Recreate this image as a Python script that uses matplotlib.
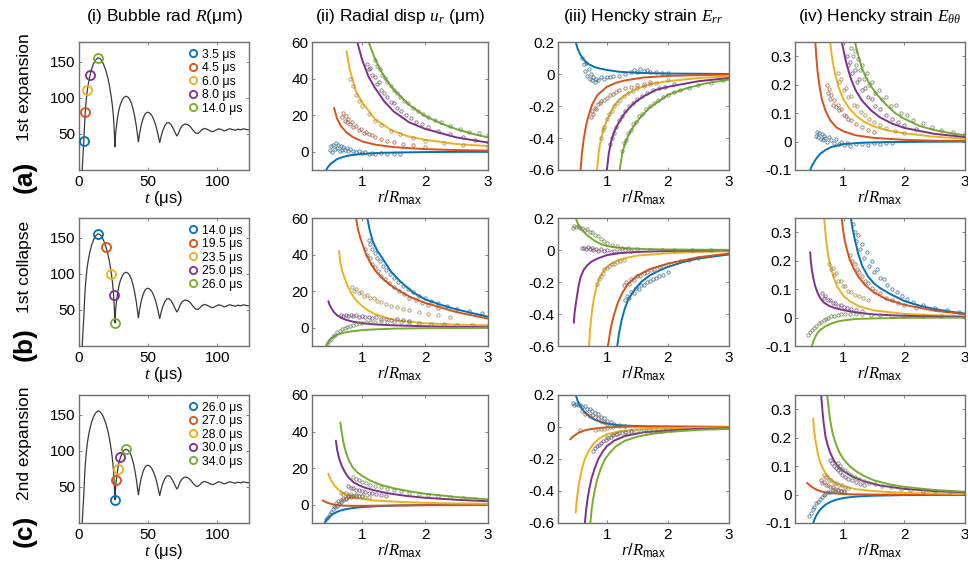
import matplotlib
matplotlib.use('Agg')
import matplotlib.pyplot as plt
from matplotlib.colors import to_rgb

plt.rcParams['font.family'] = 'Liberation Sans'
plt.rcParams['mathtext.fontset'] = 'custom'
plt.rcParams['mathtext.rm'] = 'Liberation Sans'
plt.rcParams['mathtext.it'] = 'Liberation Serif:italic'
plt.rcParams['mathtext.bf'] = 'Liberation Sans:bold'
plt.rcParams['axes.unicode_minus'] = False

colors = ['#0072BD', '#D95319', '#EDB120', '#7E2F8E', '#77AC30']

row_names = ['1st expansion', '1st collapse', '2nd expansion']
row_tags = ['(a)', '(b)', '(c)']
col_titles = ['(i) Bubble rad $R$(μm)', '(ii) Radial disp $u_r$ (μm)',
              '(iii) Hencky strain $E_{rr}$', r'(iv) Hencky strain $E_{\theta\theta}$']

# snapshot times (us) and bubble radius (um) at those times
row_times = [[3.5, 4.5, 6.0, 8.0, 14.0],
             [14.0, 19.5, 23.5, 25.0, 26.0],
             [26.0, 27.0, 28.0, 30.0, 34.0]]
row_radii = [[40, 80, 110, 131, 155],
             [155, 137, 99, 71, 32],
             [32, 59, 74, 91, 102]]

# bubble radius history R(t)
t_us = [2.3, 2.7, 3.1, 3.5, 4.0, 4.5, 5.2, 6.0, 7.0, 8.0,
        9.2, 10.5, 12.0, 13.3, 14.0, 15.2, 16.5, 18.0, 19.5, 20.8,
        22.0, 23.5, 24.4, 25.0, 25.5, 26.0, 26.5, 27.0, 28.0, 29.0,
        30.0, 31.3, 32.6, 34.0, 35.3, 36.6, 38.0, 39.3, 40.5, 41.6,
        42.4, 43.0, 43.8, 45.0, 46.5, 48.0, 49.5, 51.0, 52.5, 54.0,
        55.5, 56.8, 57.8, 58.4, 59.2, 60.5, 62.0, 63.5, 65.0, 66.5,
        68.0, 69.5, 70.8, 71.6, 73.0, 74.5, 76.5, 78.5, 80.5, 82.5,
        84.5, 86.0, 87.5, 89.0, 91.0, 93.0, 95.0, 97.0, 99.0, 101.0,
        103.0, 105.0, 107.0, 109.0, 111.0, 113.0, 115.0, 117.0, 119.0, 121.0,
        123.0]
R_um = [0, 14, 28, 40, 62, 80, 96, 110, 122, 131,
        140, 147, 152, 154.5, 155, 154, 151, 145, 137, 128,
        117, 99, 85, 71, 55, 32, 50, 59, 74, 84,
        91, 97, 100.5, 102, 101, 98, 92, 83, 72, 59,
        47, 39, 50, 62, 72, 78, 80, 79, 76, 70,
        62, 52, 43, 38, 45, 54, 61, 65, 65.5, 63,
        58, 52, 47, 49, 56, 61, 63.5, 63, 60, 55,
        51, 50.5, 53, 56, 57.5, 56, 54, 53, 55, 57,
        56, 54, 55.5, 57, 56, 55, 56.5, 55.5, 57, 56,
        55.5]

# ---- model fits: (r/Rmax, value) per snapshot ----
a_ur_fit = [
    ([0.40, 0.45, 0.50, 0.60, 0.70, 0.80, 1.00, 1.30, 1.60, 2.00, 2.50, 3.00],
     [-12, -8.5, -6.5, -4.0, -2.8, -2.0, -1.2, -0.6, -0.4, -0.2, -0.1, -0.05]),
    ([0.55, 0.60, 0.66, 0.75, 0.85, 1.00, 1.20, 1.50, 2.00, 2.50, 3.00],
     [24, 18, 14, 10.5, 8, 5.6, 3.9, 2.5, 1.4, 0.9, 0.6]),
    ([0.75, 0.80, 0.90, 1.00, 1.20, 1.45, 1.70, 2.00, 2.50, 3.00],
     [55, 45, 33, 27, 18, 12, 8.7, 6.5, 4.2, 3.1]),
    ([0.92, 1.00, 1.10, 1.20, 1.35, 1.50, 1.75, 2.00, 2.50, 3.00],
     [60, 50, 41, 35, 27.5, 22, 16, 12.5, 7.8, 5.0]),
    ([1.10, 1.20, 1.30, 1.40, 1.50, 1.75, 2.00, 2.25, 2.50, 2.75, 3.00],
     [60, 51, 44, 38.5, 34, 25.5, 19.5, 15.5, 12.3, 9.8, 7.8]),
]
a_err_fit = [
    ([0.49, 0.52, 0.56, 0.60, 0.65, 0.70, 0.80, 0.90, 1.00, 1.20, 1.50, 2.00, 3.00],
     [0.20, 0.16, 0.125, 0.10, 0.078, 0.062, 0.043, 0.033, 0.025, 0.014, 0.007, 0.003, 0.0]),
    ([0.57, 0.59, 0.62, 0.66, 0.70, 0.76, 0.85, 1.00, 1.15, 1.30, 1.60, 2.00, 2.50, 3.00],
     [-0.60, -0.50, -0.41, -0.32, -0.26, -0.19, -0.13, -0.08, -0.055, -0.04, -0.022, -0.012, -0.007, -0.004]),
    ([0.84, 0.87, 0.90, 0.95, 1.00, 1.10, 1.20, 1.35, 1.50, 1.75, 2.00, 2.50, 3.00],
     [-0.60, -0.48, -0.41, -0.34, -0.29, -0.21, -0.16, -0.12, -0.09, -0.06, -0.045, -0.025, -0.015]),
    ([1.00, 1.03, 1.07, 1.12, 1.20, 1.30, 1.45, 1.60, 1.80, 2.00, 2.50, 3.00],
     [-0.60, -0.50, -0.42, -0.36, -0.30, -0.24, -0.18, -0.14, -0.10, -0.08, -0.045, -0.025]),
    ([1.21, 1.25, 1.30, 1.37, 1.45, 1.55, 1.70, 1.85, 2.00, 2.30, 2.60, 3.00],
     [-0.60, -0.50, -0.43, -0.37, -0.32, -0.27, -0.21, -0.17, -0.13, -0.09, -0.06, -0.035]),
]
a_ett_fit = [
    ([0.45, 0.48, 0.52, 0.56, 0.62, 0.70, 0.80, 1.00, 1.30, 1.70, 2.20, 3.00],
     [-0.10, -0.085, -0.07, -0.057, -0.042, -0.03, -0.019, -0.009, -0.004, -0.002, -0.001, 0.0]),
    ([0.535, 0.55, 0.57, 0.60, 0.64, 0.70, 0.78, 0.88, 1.00, 1.20, 1.50, 2.00, 2.50, 3.00],
     [0.35, 0.30, 0.25, 0.20, 0.15, 0.11, 0.075, 0.05, 0.036, 0.022, 0.013, 0.006, 0.003, 0.002]),
    ([0.78, 0.80, 0.83, 0.87, 0.92, 1.00, 1.10, 1.22, 1.35, 1.50, 1.75, 2.00, 2.50, 3.00],
     [0.35, 0.31, 0.27, 0.23, 0.19, 0.147, 0.115, 0.088, 0.068, 0.053, 0.038, 0.029, 0.017, 0.01]),
    ([0.97, 1.00, 1.04, 1.08, 1.13, 1.20, 1.30, 1.45, 1.60, 1.80, 2.00, 2.50, 3.00],
     [0.35, 0.32, 0.28, 0.25, 0.215, 0.18, 0.145, 0.11, 0.085, 0.063, 0.048, 0.027, 0.016]),
    ([1.19, 1.22, 1.26, 1.30, 1.36, 1.45, 1.55, 1.70, 1.85, 2.00, 2.25, 2.50, 2.75, 3.00],
     [0.35, 0.32, 0.29, 0.26, 0.23, 0.195, 0.165, 0.13, 0.10, 0.08, 0.055, 0.04, 0.03, 0.022]),
]
b_ur_fit = [
    ([1.08, 1.12, 1.17, 1.24, 1.32, 1.45, 1.60, 1.80, 2.00, 2.25, 2.50, 2.75, 3.00],
     [60, 53, 47, 42, 38, 31, 25.5, 19.5, 15.5, 12.5, 10, 8, 6]),
    ([0.90, 0.93, 0.97, 1.00, 1.05, 1.12, 1.21, 1.35, 1.50, 1.75, 2.00, 2.50, 3.00],
     [60, 54, 49, 46, 41, 36, 31, 26, 22, 17, 13.6, 8.5, 5]),
    ([0.63, 0.65, 0.68, 0.72, 0.77, 0.83, 0.90, 1.00, 1.10, 1.20, 1.40, 1.60, 2.00, 2.50, 3.00],
     [42, 36, 31, 27, 22.5, 18.5, 15, 11.8, 9.3, 7.5, 5.2, 3.8, 2.4, 1.7, 1.3]),
    ([0.46, 0.48, 0.51, 0.55, 0.60, 0.67, 0.75, 0.85, 1.00, 1.20, 1.50, 2.00, 2.50, 3.00],
     [14.5, 12.5, 10.5, 8.5, 6.8, 5.3, 4.2, 3.3, 2.5, 1.8, 1.3, 0.8, 0.5, 0.3]),
    ([0.43, 0.46, 0.50, 0.55, 0.62, 0.70, 0.80, 0.90, 1.00, 1.20, 1.50, 2.00, 3.00],
     [-10, -7.8, -6, -4.7, -3.6, -2.8, -2.1, -1.7, -1.3, -0.9, -0.5, -0.25, -0.1]),
]
b_err_fit = [
    ([1.17, 1.20, 1.24, 1.29, 1.35, 1.45, 1.56, 1.70, 1.85, 2.00, 2.25, 2.50, 3.00],
     [-0.60, -0.52, -0.44, -0.37, -0.31, -0.25, -0.20, -0.16, -0.13, -0.106, -0.075, -0.053, -0.028]),
    ([1.02, 1.05, 1.08, 1.12, 1.18, 1.25, 1.35, 1.50, 1.70, 2.00, 2.50, 3.00],
     [-0.60, -0.52, -0.46, -0.40, -0.33, -0.27, -0.21, -0.16, -0.12, -0.085, -0.045, -0.022]),
    ([0.71, 0.72, 0.74, 0.76, 0.79, 0.83, 0.88, 0.94, 1.00, 1.10, 1.25, 1.50, 2.00, 2.50, 3.00],
     [-0.60, -0.52, -0.44, -0.37, -0.30, -0.23, -0.175, -0.135, -0.106, -0.078, -0.055, -0.035, -0.02, -0.012, -0.008]),
    ([0.46, 0.47, 0.49, 0.51, 0.54, 0.57, 0.62, 0.68, 0.75, 0.85, 1.00, 1.20, 1.50, 2.00, 3.00],
     [-0.455, -0.40, -0.34, -0.29, -0.22, -0.17, -0.125, -0.095, -0.072, -0.053, -0.032, -0.02, -0.012, -0.006, -0.002]),
    ([0.49, 0.52, 0.56, 0.62, 0.70, 0.80, 0.90, 1.00, 1.15, 1.30, 1.60, 2.00, 3.00],
     [0.20, 0.17, 0.14, 0.113, 0.085, 0.058, 0.037, 0.025, 0.016, 0.011, 0.006, 0.003, 0.001]),
]
b_ett_fit = [
    ([1.12, 1.15, 1.19, 1.24, 1.31, 1.40, 1.50, 1.60, 1.75, 2.00, 2.25, 2.50, 2.75, 3.00],
     [0.35, 0.31, 0.27, 0.225, 0.18, 0.145, 0.12, 0.104, 0.085, 0.058, 0.042, 0.03, 0.021, 0.014]),
    ([0.97, 0.99, 1.02, 1.06, 1.10, 1.16, 1.24, 1.35, 1.50, 1.70, 2.00, 2.50, 3.00],
     [0.35, 0.31, 0.27, 0.235, 0.205, 0.175, 0.145, 0.115, 0.088, 0.065, 0.045, 0.024, 0.012]),
    ([0.68, 0.70, 0.72, 0.75, 0.79, 0.84, 0.90, 1.00, 1.10, 1.25, 1.50, 2.00, 2.50, 3.00],
     [0.35, 0.30, 0.26, 0.215, 0.175, 0.138, 0.107, 0.076, 0.058, 0.04, 0.025, 0.013, 0.008, 0.005]),
    ([0.45, 0.46, 0.48, 0.50, 0.53, 0.57, 0.62, 0.68, 0.76, 0.86, 1.00, 1.20, 1.50, 2.00, 3.00],
     [0.23, 0.20, 0.165, 0.14, 0.112, 0.088, 0.067, 0.052, 0.041, 0.033, 0.026, 0.018, 0.011, 0.006, 0.002]),
    ([0.48, 0.50, 0.53, 0.57, 0.62, 0.70, 0.80, 0.90, 1.00, 1.20, 1.50, 2.00, 3.00],
     [-0.10, -0.085, -0.07, -0.055, -0.043, -0.031, -0.021, -0.014, -0.01, -0.005, -0.003, -0.001, 0.0]),
]
c_ur_fit = [
    ([0.40, 0.43, 0.47, 0.52, 0.58, 0.65, 0.73, 0.85, 1.00, 1.25, 1.60, 2.00, 3.00],
     [-10, -8.3, -6.8, -5.4, -4.2, -3.2, -2.5, -1.8, -1.3, -0.8, -0.4, -0.2, -0.1]),
    ([0.37, 0.40, 0.45, 0.50, 0.55, 0.60, 0.70, 0.80, 1.00, 1.50, 2.00, 3.00],
     [2.4, 1.8, 1.0, 0.5, 0.1, -0.2, -0.5, -0.6, -0.6, -0.4, -0.3, -0.2]),
    ([0.46, 0.48, 0.50, 0.53, 0.57, 0.62, 0.68, 0.75, 0.85, 1.00, 1.20, 1.60, 2.00, 2.50, 3.00],
     [17, 15, 13.5, 11.8, 10, 8.3, 6.8, 5.5, 4.2, 3.1, 2.3, 1.5, 1.0, 0.7, 0.5]),
    ([0.58, 0.60, 0.63, 0.67, 0.72, 0.78, 0.86, 0.95, 1.05, 1.20, 1.40, 1.70, 2.00, 2.50, 3.00],
     [35, 30, 25.5, 21.5, 18, 15, 12.3, 10.6, 9.2, 7.8, 6.3, 4.8, 3.8, 2.7, 1.9]),
    ([0.65, 0.67, 0.70, 0.74, 0.79, 0.85, 0.92, 1.00, 1.12, 1.30, 1.50, 1.75, 2.00, 2.50, 3.00],
     [45, 40, 34, 28.5, 24, 20.3, 17.7, 15.7, 13.3, 10.8, 9, 7.3, 6, 4.2, 2.9]),
]
c_err_fit = [
    ([0.49, 0.52, 0.56, 0.60, 0.65, 0.72, 0.80, 0.90, 1.00, 1.15, 1.35, 1.70, 2.20, 3.00],
     [0.20, 0.165, 0.135, 0.11, 0.088, 0.064, 0.046, 0.031, 0.021, 0.013, 0.008, 0.004, 0.002, 0.0]),
    ([0.40, 0.43, 0.47, 0.52, 0.58, 0.65, 0.75, 0.88, 1.00, 1.30, 1.70, 2.20, 3.00],
     [-0.078, -0.066, -0.053, -0.04, -0.029, -0.02, -0.012, -0.006, -0.002, 0.002, 0.003, 0.002, 0.001]),
    ([0.49, 0.50, 0.52, 0.54, 0.57, 0.60, 0.64, 0.70, 0.78, 0.88, 1.00, 1.20, 1.50, 2.00, 3.00],
     [-0.535, -0.48, -0.42, -0.36, -0.30, -0.25, -0.20, -0.15, -0.105, -0.07, -0.045, -0.027, -0.015, -0.007, -0.003]),
    ([0.64, 0.66, 0.68, 0.71, 0.75, 0.80, 0.86, 0.93, 1.00, 1.12, 1.30, 1.60, 2.00, 2.50, 3.00],
     [-0.60, -0.52, -0.46, -0.39, -0.32, -0.26, -0.20, -0.155, -0.12, -0.085, -0.056, -0.033, -0.021, -0.012, -0.008]),
    ([0.73, 0.75, 0.77, 0.80, 0.84, 0.90, 0.97, 1.05, 1.15, 1.30, 1.50, 1.75, 2.00, 2.50, 3.00],
     [-0.60, -0.52, -0.46, -0.40, -0.33, -0.26, -0.20, -0.16, -0.12, -0.085, -0.06, -0.042, -0.031, -0.018, -0.012]),
]
c_ett_fit = [
    ([0.50, 0.52, 0.55, 0.59, 0.64, 0.70, 0.78, 0.88, 1.00, 1.20, 1.50, 2.00, 3.00],
     [-0.10, -0.088, -0.074, -0.06, -0.047, -0.036, -0.026, -0.018, -0.012, -0.007, -0.004, -0.002, -0.001]),
    ([0.40, 0.43, 0.47, 0.52, 0.58, 0.65, 0.75, 0.90, 1.10, 1.50, 2.00, 3.00],
     [0.041, 0.035, 0.028, 0.021, 0.015, 0.01, 0.006, 0.003, 0.001, 0.0, 0.0, 0.0]),
    ([0.50, 0.51, 0.53, 0.55, 0.58, 0.62, 0.67, 0.73, 0.80, 0.90, 1.00, 1.20, 1.50, 2.00, 3.00],
     [0.267, 0.235, 0.20, 0.175, 0.14, 0.11, 0.088, 0.066, 0.05, 0.037, 0.029, 0.019, 0.012, 0.006, 0.002]),
    ([0.63, 0.65, 0.67, 0.70, 0.74, 0.78, 0.84, 0.92, 1.00, 1.15, 1.33, 1.60, 2.00, 2.50, 3.00],
     [0.353, 0.30, 0.255, 0.206, 0.172, 0.147, 0.12, 0.097, 0.082, 0.063, 0.047, 0.032, 0.02, 0.012, 0.008]),
    ([0.73, 0.75, 0.78, 0.82, 0.87, 0.93, 1.00, 1.10, 1.20, 1.33, 1.50, 1.75, 2.00, 2.50, 3.00],
     [0.353, 0.31, 0.26, 0.215, 0.18, 0.148, 0.124, 0.10, 0.083, 0.066, 0.05, 0.036, 0.027, 0.016, 0.01]),
]

# ---- measured points: (r/Rmax, value) pairs per snapshot ----
a_ur_exp = [
    [(0.48, 1.0), (0.50, 3.0), (0.52, 0.0), (0.54, 3.5), (0.56, 1.5), (0.58, 4.5), (0.60, 2.0),
     (0.62, 3.8), (0.64, 0.5), (0.66, 3.0), (0.68, 1.2), (0.70, 2.8), (0.72, 0.8), (0.75, 2.2),
     (0.78, 0.3), (0.80, 1.5), (0.85, 0.5), (0.90, -0.2), (0.95, 0.4), (1.00, -0.6), (1.05, -0.2),
     (1.10, -1.0), (1.15, -0.5), (1.20, -1.3), (1.30, -0.8), (1.40, -1.5), (1.50, -1.0), (1.60, -1.4)],
    [(0.68, 19), (0.70, 21), (0.72, 17), (0.74, 19.5), (0.76, 16), (0.78, 18), (0.80, 15),
     (0.83, 16.5), (0.86, 13.5), (0.90, 14), (0.94, 12), (0.98, 12.5), (1.02, 10.5), (1.06, 11),
     (1.10, 9.5), (1.15, 9), (1.20, 8), (1.30, 7), (1.40, 6), (1.50, 5.2), (1.65, 4.4), (1.80, 3.6),
     (2.00, 2.8)],
    [(0.80, 40), (0.85, 36), (0.90, 31), (0.95, 28), (1.00, 25), (1.10, 20.5), (1.20, 17),
     (1.30, 14.5), (1.45, 11.5), (1.60, 9.5), (1.80, 7.5), (2.00, 6), (2.30, 4.6), (2.60, 3.6),
     (3.00, 2.8)],
    [(1.08, 48), (1.10, 45), (1.13, 46), (1.16, 42), (1.20, 41), (1.23, 37), (1.27, 38), (1.30, 34),
     (1.35, 32), (1.40, 30), (1.45, 27), (1.50, 26.5), (1.56, 24), (1.62, 22.5), (1.70, 20),
     (1.78, 18.5), (1.86, 16.5), (1.95, 15), (2.05, 13.5), (2.20, 11.5), (2.40, 9.5), (2.60, 7.8),
     (2.80, 6.5), (3.00, 5.5)],
    [(1.20, 50), (1.24, 47), (1.28, 45), (1.32, 42), (1.36, 40.5), (1.40, 38), (1.45, 36),
     (1.50, 33.5), (1.55, 32), (1.60, 30), (1.66, 28), (1.72, 26.5), (1.80, 24), (1.88, 22.5),
     (1.96, 20.5), (2.05, 19), (2.15, 17.5), (2.25, 16), (2.40, 14), (2.55, 12.5), (2.70, 11),
     (2.85, 10), (3.00, 9)],
]
a_err_exp = [
    [(0.60, 0.10), (0.62, 0.06), (0.64, 0.02), (0.66, 0.07), (0.68, -0.01), (0.70, 0.03),
     (0.72, -0.03), (0.74, 0.0), (0.76, -0.04), (0.78, -0.02), (0.80, -0.05), (0.83, -0.03),
     (0.86, -0.04), (0.90, -0.02), (0.95, -0.03), (1.00, -0.02), (1.05, -0.02), (1.10, -0.01),
     (1.20, -0.01), (1.30, 0.0), (1.40, 0.01), (1.45, 0.025), (1.50, 0.015), (1.55, 0.03),
     (1.60, 0.02), (1.65, 0.028), (1.70, 0.015), (1.80, 0.012), (1.90, 0.008), (2.00, 0.004)],
    [(0.74, -0.27), (0.76, -0.23), (0.78, -0.25), (0.80, -0.21), (0.82, -0.22), (0.85, -0.19),
     (0.88, -0.18), (0.91, -0.17), (0.95, -0.16), (1.00, -0.15), (1.05, -0.13), (1.10, -0.125),
     (1.15, -0.11), (1.20, -0.10), (1.30, -0.09), (1.40, -0.08), (1.50, -0.07), (1.60, -0.06),
     (1.70, -0.05)],
    [(0.90, -0.40), (0.93, -0.35), (0.96, -0.33), (1.00, -0.28), (1.04, -0.25), (1.08, -0.23),
     (1.12, -0.20), (1.17, -0.18), (1.22, -0.16), (1.28, -0.14), (1.35, -0.12), (1.42, -0.105),
     (1.50, -0.09), (1.60, -0.075), (1.70, -0.065), (1.80, -0.055), (2.00, -0.04)],
    [(1.05, -0.44), (1.08, -0.40), (1.11, -0.37), (1.15, -0.33), (1.20, -0.29), (1.25, -0.26),
     (1.30, -0.23), (1.36, -0.20), (1.42, -0.18), (1.50, -0.155), (1.58, -0.135), (1.66, -0.12),
     (1.75, -0.10), (1.85, -0.09), (1.95, -0.08), (2.10, -0.065)],
    [(1.25, -0.48), (1.28, -0.43), (1.31, -0.41), (1.35, -0.37), (1.39, -0.35), (1.43, -0.31),
     (1.48, -0.30), (1.53, -0.26), (1.58, -0.25), (1.64, -0.22), (1.70, -0.20), (1.77, -0.18),
     (1.84, -0.165), (1.92, -0.145), (2.00, -0.13), (2.10, -0.115), (2.20, -0.10), (2.35, -0.085),
     (2.50, -0.07), (2.70, -0.055), (2.90, -0.04)],
]
a_ett_exp = [
    [(0.54, 0.02), (0.56, 0.035), (0.58, 0.015), (0.60, 0.03), (0.62, 0.01), (0.64, 0.025),
     (0.66, 0.005), (0.68, 0.02), (0.70, 0.012), (0.73, 0.0), (0.76, 0.015), (0.80, 0.005),
     (0.84, -0.005), (0.88, 0.008), (0.92, -0.01), (0.96, 0.0), (1.00, -0.012), (1.05, -0.005),
     (1.10, -0.015), (1.20, -0.01), (1.30, -0.008), (1.40, -0.012), (1.50, -0.006), (1.60, -0.01),
     (1.70, -0.004), (1.80, -0.006)],
    [(0.72, 0.20), (0.74, 0.17), (0.76, 0.185), (0.78, 0.15), (0.80, 0.165), (0.82, 0.13),
     (0.84, 0.145), (0.87, 0.12), (0.90, 0.13), (0.93, 0.11), (0.96, 0.115), (1.00, 0.095),
     (1.04, 0.09), (1.08, 0.08), (1.12, 0.075), (1.20, 0.062), (1.30, 0.05), (1.40, 0.04),
     (1.50, 0.033)],
    [(0.90, 0.24), (0.93, 0.21), (0.96, 0.22), (1.00, 0.18), (1.04, 0.19), (1.08, 0.155),
     (1.12, 0.16), (1.17, 0.13), (1.22, 0.125), (1.28, 0.105), (1.35, 0.095), (1.42, 0.08),
     (1.50, 0.07), (1.60, 0.058), (1.70, 0.048), (1.85, 0.038), (2.00, 0.03)],
    [(1.05, 0.30), (1.08, 0.27), (1.11, 0.28), (1.14, 0.24), (1.18, 0.25), (1.22, 0.21),
     (1.26, 0.22), (1.30, 0.18), (1.35, 0.19), (1.40, 0.155), (1.46, 0.15), (1.52, 0.125),
     (1.60, 0.115), (1.70, 0.095), (1.80, 0.08), (1.90, 0.068), (2.00, 0.058), (2.20, 0.044)],
    [(1.12, 0.33), (1.15, 0.30), (1.18, 0.32), (1.21, 0.27), (1.24, 0.29), (1.27, 0.25),
     (1.30, 0.27), (1.34, 0.22), (1.38, 0.24), (1.42, 0.20), (1.47, 0.21), (1.52, 0.17),
     (1.58, 0.18), (1.64, 0.15), (1.70, 0.155), (1.78, 0.125), (1.86, 0.13), (1.95, 0.10),
     (2.05, 0.095), (2.15, 0.075), (2.30, 0.065), (2.45, 0.05), (2.60, 0.042), (2.80, 0.032),
     (3.00, 0.025)],
]
b_ur_exp = [
    [(1.10, 48), (1.13, 46), (1.16, 43), (1.20, 41), (1.24, 38), (1.28, 36.5), (1.33, 34),
     (1.38, 31.5), (1.44, 29.5), (1.50, 27), (1.57, 25), (1.64, 23), (1.72, 21), (1.80, 19.5),
     (1.90, 17.5), (2.00, 16), (2.10, 14.5), (2.20, 13.5), (2.35, 12), (2.50, 10.5), (2.70, 9),
     (2.90, 8)],
    [(1.05, 43), (1.08, 40), (1.12, 38), (1.16, 35), (1.20, 33), (1.25, 31), (1.30, 28.5),
     (1.36, 26.5), (1.42, 24.5), (1.50, 22), (1.58, 20), (1.66, 18.5), (1.75, 16.5), (1.85, 15),
     (1.95, 13.5), (2.05, 12.5), (2.20, 11)],
    [(0.84, 22), (0.87, 20), (0.90, 21), (0.94, 19), (0.98, 19.5), (1.02, 17.5), (1.07, 18),
     (1.12, 16), (1.18, 16.5), (1.24, 14.5), (1.30, 14), (1.38, 13), (1.46, 12), (1.55, 11.5),
     (1.65, 10.5), (1.75, 9.5), (1.90, 8.5), (2.05, 7.5), (2.20, 7), (2.40, 6)],
    [(0.66, 7), (0.70, 6.5), (0.74, 7.2), (0.78, 6.6), (0.82, 7), (0.86, 6.2), (0.90, 6.8),
     (0.95, 6), (1.00, 6.4), (1.05, 5.6), (1.10, 6), (1.16, 5.2), (1.22, 5.6), (1.30, 4.8),
     (1.38, 5), (1.46, 4.4), (1.55, 4.5), (1.65, 4), (1.75, 3.8)],
    [(0.44, -9), (0.47, -7), (0.50, -6), (0.53, -4.5), (0.56, -3.8), (0.60, -2.5), (0.64, -1.8),
     (0.68, -0.8), (0.72, -0.2), (0.76, 0.6), (0.80, 1.0), (0.85, 1.6), (0.90, 2.0), (0.95, 2.4),
     (1.00, 2.6), (1.06, 3.0), (1.12, 3.0), (1.20, 3.3), (1.30, 3.4), (1.40, 3.3), (1.50, 3.2),
     (1.62, 3.0), (1.75, 2.8), (1.90, 2.6), (2.10, 2.2), (2.30, 1.9), (2.50, 1.6), (2.75, 1.3),
     (3.00, 1.0)],
]
b_err_exp = [
    [(1.30, -0.31), (1.33, -0.29), (1.36, -0.30), (1.40, -0.26), (1.44, -0.27), (1.48, -0.24),
     (1.52, -0.245), (1.56, -0.22), (1.60, -0.22), (1.65, -0.20), (1.70, -0.195), (1.75, -0.18),
     (1.80, -0.175), (1.86, -0.16), (1.92, -0.155), (2.00, -0.14)],
    [(1.28, -0.22), (1.32, -0.20), (1.36, -0.21), (1.40, -0.18), (1.45, -0.185), (1.50, -0.16),
     (1.55, -0.165), (1.60, -0.145), (1.66, -0.14), (1.72, -0.125), (1.78, -0.12), (1.85, -0.105),
     (1.92, -0.10), (2.00, -0.09), (2.10, -0.08), (2.20, -0.07), (2.35, -0.06), (2.50, -0.05)],
    [(0.84, -0.21), (0.87, -0.18), (0.90, -0.16), (0.93, -0.145), (0.96, -0.12), (1.00, -0.11),
     (1.04, -0.10), (1.08, -0.09), (1.12, -0.085), (1.17, -0.075), (1.22, -0.07), (1.28, -0.06)],
    [(0.60, 0.01), (0.63, 0.015), (0.66, 0.005), (0.69, 0.018), (0.72, 0.008), (0.75, 0.012),
     (0.78, 0.0), (0.82, 0.008), (0.86, -0.005), (0.90, 0.004), (0.95, -0.008), (1.00, -0.002),
     (1.06, -0.01), (1.12, -0.004), (1.20, -0.006), (1.30, -0.003), (1.40, -0.004)],
    [(0.44, 0.14), (0.47, 0.15), (0.50, 0.145), (0.53, 0.15), (0.56, 0.135), (0.60, 0.14),
     (0.64, 0.125), (0.68, 0.13), (0.72, 0.115), (0.76, 0.11), (0.80, 0.095), (0.85, 0.085),
     (0.90, 0.07), (0.95, 0.058), (1.00, 0.045), (1.08, 0.033), (1.16, 0.022), (1.25, 0.015),
     (1.35, 0.01), (1.50, 0.005), (1.70, 0.003), (1.90, 0.0), (2.10, -0.002), (2.40, -0.002),
     (2.70, -0.003), (3.00, -0.004)],
]
b_ett_exp = [
    [(1.15, 0.33), (1.18, 0.30), (1.21, 0.27), (1.24, 0.29), (1.27, 0.24), (1.30, 0.26),
     (1.34, 0.21), (1.38, 0.23), (1.42, 0.18), (1.46, 0.20), (1.50, 0.16), (1.55, 0.17),
     (1.60, 0.14), (1.66, 0.135), (1.72, 0.115), (1.80, 0.10), (1.88, 0.09), (1.96, 0.075),
     (2.05, 0.065), (2.15, 0.055), (2.30, 0.045), (2.50, 0.032), (2.70, 0.025), (2.90, 0.018)],
    [(1.10, 0.22), (1.14, 0.20), (1.18, 0.19), (1.22, 0.17), (1.26, 0.16), (1.30, 0.145),
     (1.35, 0.13), (1.40, 0.12), (1.46, 0.105), (1.52, 0.095), (1.60, 0.085), (1.70, 0.07),
     (1.80, 0.06), (1.90, 0.052), (2.00, 0.045), (2.20, 0.034)],
    [(0.76, 0.19), (0.79, 0.17), (0.82, 0.175), (0.85, 0.15), (0.88, 0.155), (0.91, 0.13),
     (0.95, 0.13), (0.99, 0.11), (1.03, 0.11), (1.08, 0.095), (1.13, 0.09), (1.19, 0.08),
     (1.25, 0.075), (1.32, 0.068), (1.40, 0.062)],
    [(0.64, 0.085), (0.67, 0.07), (0.70, 0.075), (0.74, 0.06), (0.78, 0.062), (0.82, 0.05),
     (0.86, 0.052), (0.90, 0.042), (0.95, 0.044), (1.00, 0.036), (1.06, 0.035), (1.12, 0.03),
     (1.20, 0.028), (1.30, 0.024)],
    [(0.42, -0.06), (0.45, -0.05), (0.48, -0.045), (0.51, -0.035), (0.55, -0.03), (0.59, -0.02),
     (0.63, -0.015), (0.67, -0.008), (0.71, -0.004), (0.75, 0.0), (0.80, 0.004), (0.85, 0.007),
     (0.90, 0.009), (0.96, 0.011), (1.02, 0.012), (1.10, 0.012), (1.20, 0.012), (1.30, 0.011),
     (1.45, 0.01), (1.60, 0.008), (1.80, 0.007), (2.00, 0.006), (2.30, 0.005), (2.60, 0.004),
     (3.00, 0.003)],
]
c_ur_exp = [
    [(0.42, -8), (0.45, -6.5), (0.48, -5), (0.51, -4), (0.54, -2.5), (0.57, -1.5), (0.60, -0.5),
     (0.63, 0.5), (0.66, 1.5), (0.70, 2.5), (0.74, 3), (0.78, 4), (0.82, 4.5), (0.86, 5),
     (0.90, 5.5), (0.95, 5), (1.00, 5)],
    [(0.55, -0.5), (0.58, 1), (0.62, 2), (0.66, 2.5), (0.70, 3.5), (0.74, 3.8), (0.78, 4.5),
     (0.82, 4.2), (0.86, 4.8), (0.90, 4.4)],
    [(0.66, 6.5), (0.70, 6), (0.74, 6.2), (0.78, 5.5), (0.82, 5.6), (0.86, 5), (0.90, 5.2),
     (0.95, 4.6), (1.00, 4.6), (1.05, 4), (1.10, 4)],
    [(0.78, 10), (0.82, 9.2), (0.86, 9), (0.90, 8.2), (0.95, 8), (1.00, 7.4), (1.05, 7),
     (1.10, 6.6), (1.16, 6.2), (1.22, 5.8), (1.30, 5.3), (1.38, 4.9)],
    [(0.86, 15), (0.90, 14), (0.95, 13.5), (1.00, 12.5), (1.06, 12), (1.12, 11), (1.20, 10.5),
     (1.30, 9.5), (1.40, 8.8), (1.50, 8), (1.62, 7.4), (1.75, 6.6), (1.90, 5.9), (2.05, 5.2),
     (2.20, 4.6), (2.40, 4), (2.60, 3.4), (2.80, 3), (3.00, 2.6)],
]
c_err_exp = [
    [(0.44, 0.15), (0.47, 0.14), (0.50, 0.145), (0.53, 0.135), (0.56, 0.14), (0.60, 0.125),
     (0.64, 0.13), (0.68, 0.115), (0.72, 0.11), (0.76, 0.10), (0.80, 0.09), (0.85, 0.08),
     (0.90, 0.065), (0.95, 0.055), (1.00, 0.04), (1.06, 0.03), (1.12, 0.02), (1.20, 0.012),
     (1.30, 0.006)],
    [(0.56, -0.02), (0.60, 0.10), (0.64, 0.08), (0.68, 0.09), (0.72, 0.07), (0.76, 0.075),
     (0.80, 0.06), (0.85, 0.055), (0.90, 0.04), (0.95, 0.03), (1.00, 0.02)],
    [(0.80, -0.02), (0.85, -0.015), (0.90, -0.01), (0.95, -0.01), (1.00, -0.005), (1.05, 0.0),
     (1.10, 0.0), (1.20, 0.005), (1.30, 0.005)],
    [(0.78, -0.15), (0.81, -0.13), (0.84, -0.12), (0.87, -0.11), (0.90, -0.10), (0.94, -0.09),
     (0.98, -0.08), (1.02, -0.07), (1.06, -0.06), (1.10, -0.05), (1.15, -0.045), (1.20, -0.04),
     (1.30, -0.03), (1.40, -0.025)],
    [(1.00, -0.06), (1.08, -0.05), (1.16, -0.042), (1.24, -0.037), (1.32, -0.033), (1.40, -0.03),
     (1.48, -0.028), (1.56, -0.027), (1.64, -0.026), (1.72, -0.025), (1.80, -0.024),
     (1.88, -0.022), (1.96, -0.02), (2.05, -0.018)],
]
c_ett_exp = [
    [(0.43, -0.075), (0.46, -0.065), (0.49, -0.05), (0.52, -0.045), (0.55, -0.03), (0.58, -0.025),
     (0.61, -0.015), (0.64, -0.01), (0.67, -0.002), (0.70, 0.002), (0.74, 0.008), (0.78, 0.01),
     (0.82, 0.015), (0.86, 0.014), (0.90, 0.016), (0.95, 0.014), (1.00, 0.012)],
    [(0.62, 0.05), (0.65, 0.04), (0.68, 0.045), (0.71, 0.035), (0.74, 0.035), (0.78, 0.028),
     (0.82, 0.025), (0.86, 0.02), (0.90, 0.016), (0.95, 0.012), (1.00, 0.008)],
    [(0.67, 0.07), (0.70, 0.06), (0.73, 0.062), (0.76, 0.052), (0.80, 0.05), (0.84, 0.042),
     (0.88, 0.04), (0.92, 0.034), (0.97, 0.032), (1.02, 0.027), (1.08, 0.024)],
    [(0.78, 0.12), (0.81, 0.11), (0.84, 0.10), (0.87, 0.095), (0.90, 0.085), (0.94, 0.078),
     (0.98, 0.07), (1.03, 0.062), (1.08, 0.056), (1.14, 0.05), (1.20, 0.044), (1.27, 0.038),
     (1.34, 0.034)],
    [(0.90, 0.11), (0.94, 0.10), (0.98, 0.09), (1.02, 0.085), (1.07, 0.075), (1.12, 0.07),
     (1.18, 0.062), (1.25, 0.055), (1.33, 0.048), (1.42, 0.042), (1.52, 0.036), (1.64, 0.03),
     (1.78, 0.025), (1.94, 0.02), (2.10, 0.017), (2.30, 0.014), (2.50, 0.011), (2.75, 0.009),
     (3.00, 0.007)],
]

fits = [[a_ur_fit, a_err_fit, a_ett_fit],
        [b_ur_fit, b_err_fit, b_ett_fit],
        [c_ur_fit, c_err_fit, c_ett_fit]]
exps = [[a_ur_exp, a_err_exp, a_ett_exp],
        [b_ur_exp, b_err_exp, b_ett_exp],
        [c_ur_exp, c_err_exp, c_ett_exp]]

field_ylim = [(-10, 60), (-0.6, 0.2), (-0.1, 0.35)]
field_ticks = [[0, 20, 40, 60], [-0.6, -0.4, -0.2, 0, 0.2], [-0.1, 0, 0.1, 0.2, 0.3]]
field_ticklabels = [['0', '20', '40', '60'], ['-0.6', '-0.4', '-0.2', '0', '0.2'],
                    ['-0.1', '0', '0.1', '0.2', '0.3']]

# layout in pixels of a 968 x 564 canvas
W, H = 968, 564
lefts = [79, 312, 558, 795]
widths = [170, 176, 171, 170]
tops = [42, 218, 395]
ax_h = 128


def muted(c, w=0.45):
    r, g, b = to_rgb(c)
    gray = 0.38
    return (r * w + gray * (1 - w), g * w + gray * (1 - w), b * w + gray * (1 - w))


def style(ax):
    for s in ax.spines.values():
        s.set_color('#707070')
        s.set_linewidth(1.0)
    ax.tick_params(direction='in', length=2.5, width=0.6, color='#707070',
                   top=True, right=True, labelsize=11)
    ax.tick_params(axis='x', pad=3.5)
    ax.tick_params(axis='y', pad=2.5)


fig = plt.figure(figsize=(W / 100, H / 100), dpi=100)

for row in range(3):
    axs = []
    for col in range(4):
        ax = fig.add_axes([lefts[col] / W, 1 - (tops[row] + ax_h) / H, widths[col] / W, ax_h / H])
        style(ax)
        axs.append(ax)

    # bubble radius history with the snapshot markers
    ax = axs[0]
    ax.plot(t_us, R_um, color='#3a3a3a', lw=0.9, zorder=2)
    for k in range(5):
        ax.plot(row_times[row][k], row_radii[row][k], 'o', mfc='none', mec=colors[k],
                ms=6.5, mew=1.3, zorder=3, label=f'{row_times[row][k]:.1f} μs')
    ax.set_xlim(0, 123)
    ax.set_ylim(0, 177)
    ax.set_xticks([0, 50, 100])
    ax.set_yticks([50, 100, 150])
    ax.set_xlabel('$t$ (μs)', fontsize=12, labelpad=0)
    ax.legend(loc='upper right', frameon=False, fontsize=8.8, handlelength=0.7,
              handletextpad=0.35, labelspacing=0.12, borderaxespad=0.25,
              borderpad=0.3, markerscale=0.8)

    # displacement and strain profiles
    for f in range(3):
        ax = axs[f + 1]
        for k in range(5):
            r, v = fits[row][f][k]
            ax.plot(r, v, color=colors[k], lw=1.4, zorder=2, solid_capstyle='round')
            pts = exps[row][f][k]
            ax.plot([p[0] for p in pts], [p[1] for p in pts], ls='none', marker='o',
                    ms=2.4, mfc='none', mec=muted(colors[k]), mew=0.6, alpha=0.85, zorder=3)
        ax.set_xlim(0.2, 3)
        ax.set_ylim(*field_ylim[f])
        ax.set_xticks([1, 2, 3])
        ax.set_yticks(field_ticks[f])
        ax.set_yticklabels(field_ticklabels[f])
        ax.set_xlabel(r'$r/R_{\mathrm{max}}$', fontsize=12, labelpad=0)

    # row labels
    cy = {0: (87, 177), 1: (267, 344), 2: (443, 531)}[row]
    fig.text(25 / W, 1 - cy[0] / H, row_names[row], rotation=90, fontsize=12.5,
             ha='center', va='center')
    fig.text(25 / W, 1 - cy[1] / H, row_tags[row], rotation=90, fontsize=19,
             fontweight='bold', ha='center', va='center')

# column titles
for col in range(4):
    fig.text((lefts[col] + widths[col] / 2) / W, 1 - 17 / H, col_titles[col],
             fontsize=12.5, ha='center', va='center')

fig.savefig('out.png', dpi=100)
